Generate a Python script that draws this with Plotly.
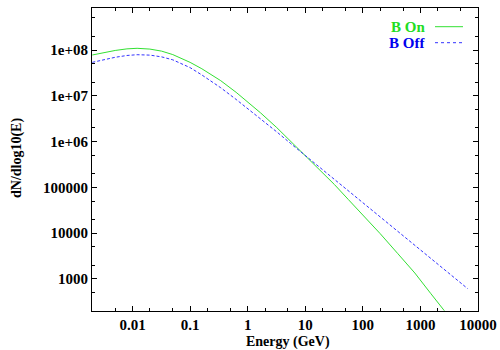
import plotly.graph_objects as go

# Energy (GeV) sample points and dN/dlog10(E) values
energy_on = [0.002, 0.0032, 0.005, 0.008, 0.012, 0.02, 0.032, 0.05, 0.07, 0.1, 0.16, 0.25, 0.34,
             0.63, 1.13, 1.68, 3.2, 5.6, 9.5, 18, 32, 56, 105, 200, 400, 800, 1500, 2600]
counts_on = [7.78e7, 8.81e7, 9.77e7, 1.059e8, 1.089e8, 1.047e8, 9.44e7, 7.94e7, 6.53e7, 5.37e7,
             3.89e7, 2.72e7, 2.14e7, 1.19e7, 6.53e6, 4.22e6, 2.02e6, 1.0e6, 5.25e5, 2.43e5,
             1.16e5, 5.43e4, 2.34e4, 9770, 3640, 1349, 488, 203]

energy_off = [0.002, 0.0032, 0.005, 0.008, 0.012, 0.02, 0.032, 0.05, 0.07, 0.1, 0.16, 0.25, 0.34,
              0.63, 1.13, 1.68, 3.2, 5.6, 9.5, 18, 32, 56, 105, 200, 400, 800, 1500, 3160, 6600]
counts_off = [5.38e7, 6.17e7, 6.93e7, 7.59e7, 7.89e7, 7.73e7, 7.08e7, 6.10e7, 5.13e7, 4.12e7,
              2.85e7, 1.95e7, 1.50e7, 8.32e6, 4.68e6, 3.13e6, 1.63e6, 9.04e5, 5.25e5, 2.76e5,
              1.52e5, 8.41e4, 4.42e4, 2.29e4, 1.11e4, 5500, 2820, 1320, 617]

x_tickvals = [0.01, 0.1, 1, 10, 100, 1000, 10000]
x_ticktext = ["0.01", "0.1", "1", "10", "100", "1000", "10000"]
y_tickvals = [1e3, 1e4, 1e5, 1e6, 1e7, 1e8]
y_ticktext = ["1000", "10000", "100000", "1e+06", "1e+07", "1e+08"]

series_names = ["B On", "B Off"]
GREEN_TXT = "#22dd22"
BLUE_TXT = "#0000ee"
GREEN_LINE = "#33e033"
BLUE_LINE = "#3333ff"
FONT = "Liberation Serif"

fig = go.Figure()
fig.add_trace(go.Scatter(x=energy_on, y=counts_on, mode="lines", name=series_names[0],
                         line=dict(color=GREEN_LINE, width=1)))
fig.add_trace(go.Scatter(x=energy_off, y=counts_off, mode="lines", name=series_names[1],
                         line=dict(color=BLUE_LINE, width=1, dash="3px,2px")))

axis_common = dict(
    showgrid=False, zeroline=False, showline=True, linecolor="black", linewidth=1,
    mirror="ticks", ticks="inside", ticklen=5, tickcolor="black", tickwidth=1,
    tickfont=dict(family=FONT, size=15, color="black", weight="bold"),
    minor=dict(ticks="inside", ticklen=3, dtick="D2", tickcolor="black", showgrid=False),
)

fig.update_xaxes(type="log", range=[-2.704, 4.0], tickvals=x_tickvals, ticktext=x_ticktext,
                 **axis_common)
fig.update_yaxes(type="log", range=[2.301, 8.917], tickvals=y_tickvals, ticktext=y_ticktext,
                 **axis_common)

fig.update_layout(
    width=500, height=350,
    margin=dict(l=92, r=22, t=8, b=39, autoexpand=False),
    paper_bgcolor="white", plot_bgcolor="white",
    showlegend=False,
    font=dict(family=FONT, color="black"),
)

# axis titles
fig.add_annotation(text="<b>Energy (GeV)</b>", xref="paper", yref="paper",
                   x=(288 - 92) / 386, y=(311 - 342) / 303, xanchor="center", yanchor="middle",
                   showarrow=False, font=dict(family=FONT, size=14, color="black"))
fig.add_annotation(text="<b>dN/dlog10(E)</b>", xref="paper", yref="paper",
                   x=(17 - 92) / 386, y=(311 - 158) / 303, xanchor="center", yanchor="middle",
                   textangle=-90, showarrow=False, font=dict(family=FONT, size=14, color="black"))

# legend (text then sample line, as in the original)
legend_rows = [(series_names[0], GREEN_TXT, GREEN_LINE, "solid", 26.7),
               (series_names[1], BLUE_TXT, BLUE_LINE, "dot", 42.7)]
for name, tcol, lcol, dash, ypx in legend_rows:
    yp = (311 - ypx) / 303
    fig.add_annotation(text="<b>" + name + "</b>", xref="paper", yref="paper",
                       x=(427 - 92) / 386, y=yp, xanchor="right", yanchor="middle",
                       showarrow=False, font=dict(family=FONT, size=15, color=tcol))
    fig.add_shape(type="line", xref="paper", yref="paper",
                  x0=(435 - 92) / 386, x1=(463 - 92) / 386, y0=yp, y1=yp,
                  line=dict(color=lcol, width=1, dash=dash))

fig.write_html("out.html", config={"displayModeBar": False},
               post_script="document.body.style.margin='0';document.body.style.padding='0';")
